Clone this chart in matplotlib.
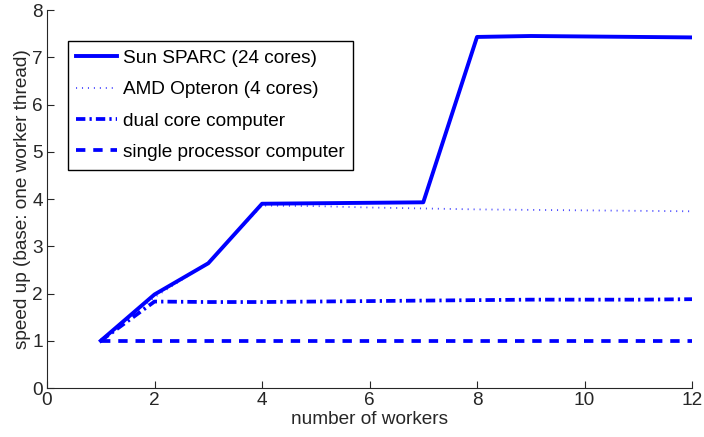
import matplotlib
matplotlib.use('Agg')
import matplotlib.pyplot as plt
import numpy as np

plt.rcParams['font.family'] = ['Liberation Sans', 'DejaVu Sans']

workers = np.arange(1, 13)
sun_sparc = [1.0, 1.98, 2.64, 3.90, 3.91, 3.92, 3.93, 7.43, 7.45, 7.44, 7.43, 7.42]
amd_opteron = [1.0, 1.92, 2.65, 3.86, 3.85, 3.82, 3.80, 3.78, 3.77, 3.76, 3.75, 3.74]
dual_core = [1.0, 1.83, 1.82, 1.82, 1.83, 1.84, 1.85, 1.86, 1.87, 1.87, 1.87, 1.88]
single_proc = [1.0] * 12

labels = ['Sun SPARC (24 cores)', 'AMD Opteron (4 cores)',
          'dual core computer', 'single processor computer']

fig = plt.figure(figsize=(7.04, 4.37), dpi=100)
ax = fig.add_axes([0.0668, 0.1121, 0.9162, 0.8650])

blue = '#0000ff'
fs = 13.7
ax.plot(workers, sun_sparc, color=blue, lw=2.8, ls='-', label=labels[0])
ax.plot(workers, amd_opteron, color=blue, lw=1.3, ls=(0, (0.6, 2.7)), alpha=0.7, label=labels[1])
ax.plot(workers, dual_core, color=blue, lw=2.7, ls=(0, (2.5, 1.1, 0.6, 1.1)), label=labels[2])
ax.plot(workers, single_proc, color=blue, lw=2.7, ls=(0, (2.5, 2.1)), label=labels[3])

ax.set_xlim(0, 12)
ax.set_ylim(0, 8)
ax.set_xticks(range(0, 13, 2))
ax.set_yticks(range(0, 9))
ax.spines['top'].set_visible(False)
ax.spines['right'].set_visible(False)
ax.tick_params(direction='in', length=5, labelsize=fs, color='#262626', labelcolor='#262626', pad=3)
for s in ax.spines.values():
    s.set_color('#262626')
ax.set_xlabel('number of workers', fontsize=fs, color='#262626', labelpad=1)
ax.set_ylabel('speed up (base: one worker thread)', fontsize=fs, color='#262626', labelpad=1)

leg = ax.legend(loc='upper left', bbox_to_anchor=(0.032, 0.918), fontsize=fs,
                frameon=True, fancybox=False, edgecolor='black', framealpha=1,
                handlelength=2.16, handletextpad=0.3, borderpad=0.45,
                labelspacing=0.74, borderaxespad=0)
leg.get_frame().set_linewidth(1.0)

fig.savefig('out.png', dpi=100)
